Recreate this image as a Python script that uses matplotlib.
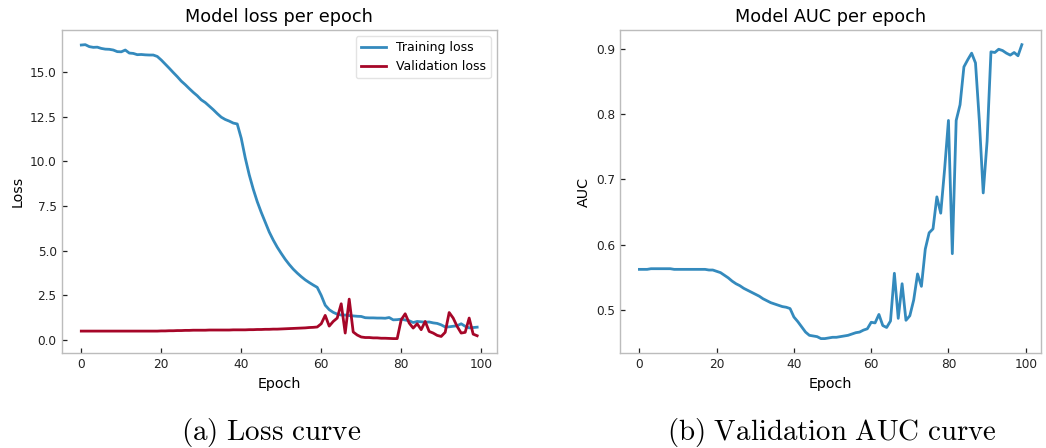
import matplotlib
matplotlib.use("Agg")
import matplotlib.pyplot as plt
import numpy as np

epochs = list(range(100))

train_loss = [
    16.52, 16.54, 16.43, 16.39, 16.40, 16.33, 16.29, 16.28, 16.24, 16.15,
    16.14, 16.24, 16.07, 16.05, 15.98, 15.99, 15.97, 15.96, 15.96, 15.88,
    15.68, 15.45, 15.22, 14.98, 14.75, 14.50, 14.30, 14.08, 13.87, 13.68,
    13.45, 13.30, 13.10, 12.90, 12.68, 12.48, 12.35, 12.26, 12.15, 12.10,
    11.30, 10.20, 9.25, 8.45, 7.75, 7.15, 6.60, 6.05, 5.60, 5.20,
    4.85, 4.52, 4.23, 3.97, 3.75, 3.55, 3.37, 3.22, 3.08, 2.95,
    2.50, 1.95, 1.70, 1.55, 1.45, 1.40, 1.40, 1.37, 1.35, 1.33,
    1.32, 1.25, 1.24, 1.24, 1.23, 1.23, 1.22, 1.26, 1.13, 1.14,
    1.17, 1.12, 1.08, 0.98, 1.04, 1.02, 1.00, 1.01, 0.96, 0.93,
    0.85, 0.73, 0.74, 0.77, 0.80, 0.91, 0.77, 0.68, 0.70, 0.72,
]

val_loss = [
    0.50, 0.50, 0.50, 0.50, 0.50, 0.50, 0.50, 0.50, 0.50, 0.50,
    0.50, 0.50, 0.50, 0.50, 0.50, 0.50, 0.50, 0.50, 0.50, 0.50,
    0.51, 0.51, 0.52, 0.52, 0.53, 0.53, 0.54, 0.54, 0.55, 0.55,
    0.55, 0.55, 0.56, 0.56, 0.56, 0.56, 0.56, 0.56, 0.57, 0.57,
    0.57, 0.57, 0.58, 0.58, 0.59, 0.59, 0.60, 0.60, 0.61, 0.61,
    0.62, 0.63, 0.64, 0.65, 0.66, 0.67, 0.68, 0.70, 0.71, 0.73,
    0.91, 1.38, 0.78, 1.04, 1.23, 2.03, 0.39, 2.29, 0.45, 0.28,
    0.17, 0.14, 0.14, 0.12, 0.12, 0.10, 0.10, 0.09, 0.08, 0.08,
    1.13, 1.47, 0.95, 0.67, 0.91, 0.58, 1.04, 0.48, 0.39, 0.26,
    0.20, 0.43, 1.54, 1.23, 0.76, 0.39, 0.43, 1.23, 0.33, 0.24,
]

val_auc = [
    0.562, 0.562, 0.562, 0.563, 0.563, 0.563, 0.563, 0.563, 0.563, 0.562,
    0.562, 0.562, 0.562, 0.562, 0.562, 0.562, 0.562, 0.562, 0.561, 0.561,
    0.559, 0.557, 0.553, 0.549, 0.544, 0.540, 0.537, 0.533, 0.530, 0.527,
    0.524, 0.521, 0.517, 0.514, 0.511, 0.509, 0.507, 0.505, 0.504, 0.502,
    0.489, 0.482, 0.474, 0.466, 0.461, 0.460, 0.459, 0.456, 0.456, 0.457,
    0.458, 0.458, 0.459, 0.460, 0.461, 0.463, 0.465, 0.466, 0.469, 0.471,
    0.481, 0.480, 0.493, 0.476, 0.473, 0.483, 0.556, 0.487, 0.540, 0.484,
    0.491, 0.515, 0.555, 0.536, 0.593, 0.618, 0.624, 0.673, 0.648, 0.715,
    0.790, 0.586, 0.790, 0.814, 0.872, 0.883, 0.893, 0.878, 0.789, 0.679,
    0.758, 0.895, 0.894, 0.899, 0.897, 0.893, 0.890, 0.894, 0.889, 0.906,
]

BLUE = "#348ABD"
RED = "#A60628"
plt.rcParams["mathtext.fontset"] = "cm"

fig = plt.figure(figsize=(10.46, 4.48), dpi=100)
ax1 = fig.add_axes([0.0588, 0.2114, 0.4163, 0.7217])
ax2 = fig.add_axes([0.5930, 0.2114, 0.4022, 0.7217])

def style(ax):
    for s in ax.spines.values():
        s.set_color("#bcbcbc")
        s.set_linewidth(1.0)
    ax.tick_params(direction="in", length=3.5, width=0.9, labelsize=8.7,
                   colors="#222222", labelcolor="#222222", top=False, right=False)
    ax.set_facecolor("white")

ax1.plot(epochs, train_loss, color=BLUE, lw=2, label="Training loss")
ax1.plot(epochs, val_loss, color=RED, lw=2, label="Validation loss")
ax1.set_title("Model loss per epoch", fontsize=12.7)
ax1.set_xlabel("Epoch", fontsize=10.3)
ax1.set_ylabel("Loss", fontsize=10.3)
style(ax1)
leg = ax1.legend(loc="upper right", fontsize=9, frameon=True, fancybox=True)
leg.get_frame().set_edgecolor("#dddddd")

ax2.plot(epochs, val_auc, color=BLUE, lw=2)
ax2.set_title("Model AUC per epoch", fontsize=12.7)
ax2.set_xlabel("Epoch", fontsize=10.3)
ax2.set_ylabel("AUC", fontsize=10.3)
ax2.set_yticks([0.5, 0.6, 0.7, 0.8, 0.9])
style(ax2)

fig.text(0.259, 0.034, r"$\mathrm{(a)\ Loss\ curve}$", fontsize=21,
         ha="center", va="center")
fig.text(0.795, 0.034, r"$\mathrm{(b)\ Validation\ AUC\ curve}$", fontsize=20.8,
         ha="center", va="center")

fig.savefig("out.png", dpi=100, facecolor="white")
